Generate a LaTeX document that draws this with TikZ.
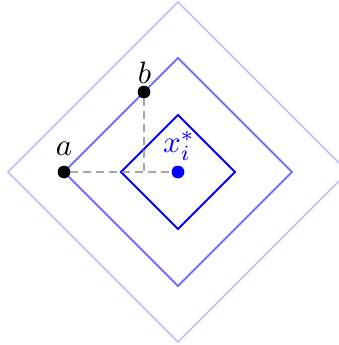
\documentclass[tikz,border=0pt]{standalone}
\begin{document}
\begin{tikzpicture}[x=1pt,y=-1pt,
  dot/.style={circle,fill=black,inner sep=0pt,minimum size=12.5pt},
  bdot/.style={circle,fill=blue,inner sep=0pt,minimum size=12.5pt},
  lbl/.style={scale=3.1,inner sep=0pt},
  guide/.style={gray!70,line width=1.8pt,dash pattern=on 8pt off 5pt}]
\useasboundingbox (0,0) rectangle (339,345);
\draw[blue!25,line width=1.6pt] (178,2) -- (348,172) -- (178,342) -- (8,172) -- cycle;
\draw[blue!55,line width=1.8pt] (178,58) -- (292,172) -- (178,286) -- (64,172) -- cycle;
\draw[blue,line width=1.9pt] (178,115) -- (235,172) -- (178,229) -- (121,172) -- cycle;
\coordinate (m) at (144,172);
\node[dot] (a) at (64,172) {};
\node[dot] (b) at (144,92) {};
\node[bdot] (x) at (178,172) {};
\draw[guide] (a) -- (x);
\draw[guide] (b) -- (m);
\node[dot] at (64,172) {};
\node[dot] at (144,92) {};
\node[bdot] at (178,172) {};
\node[lbl] (la) at (64,149) {$a$};
\node[lbl] (lb) at (144.5,73) {$b$};
\node[lbl,text=blue] (lx) at (179,146) {$x_i^*$};
\end{tikzpicture}
\end{document}
